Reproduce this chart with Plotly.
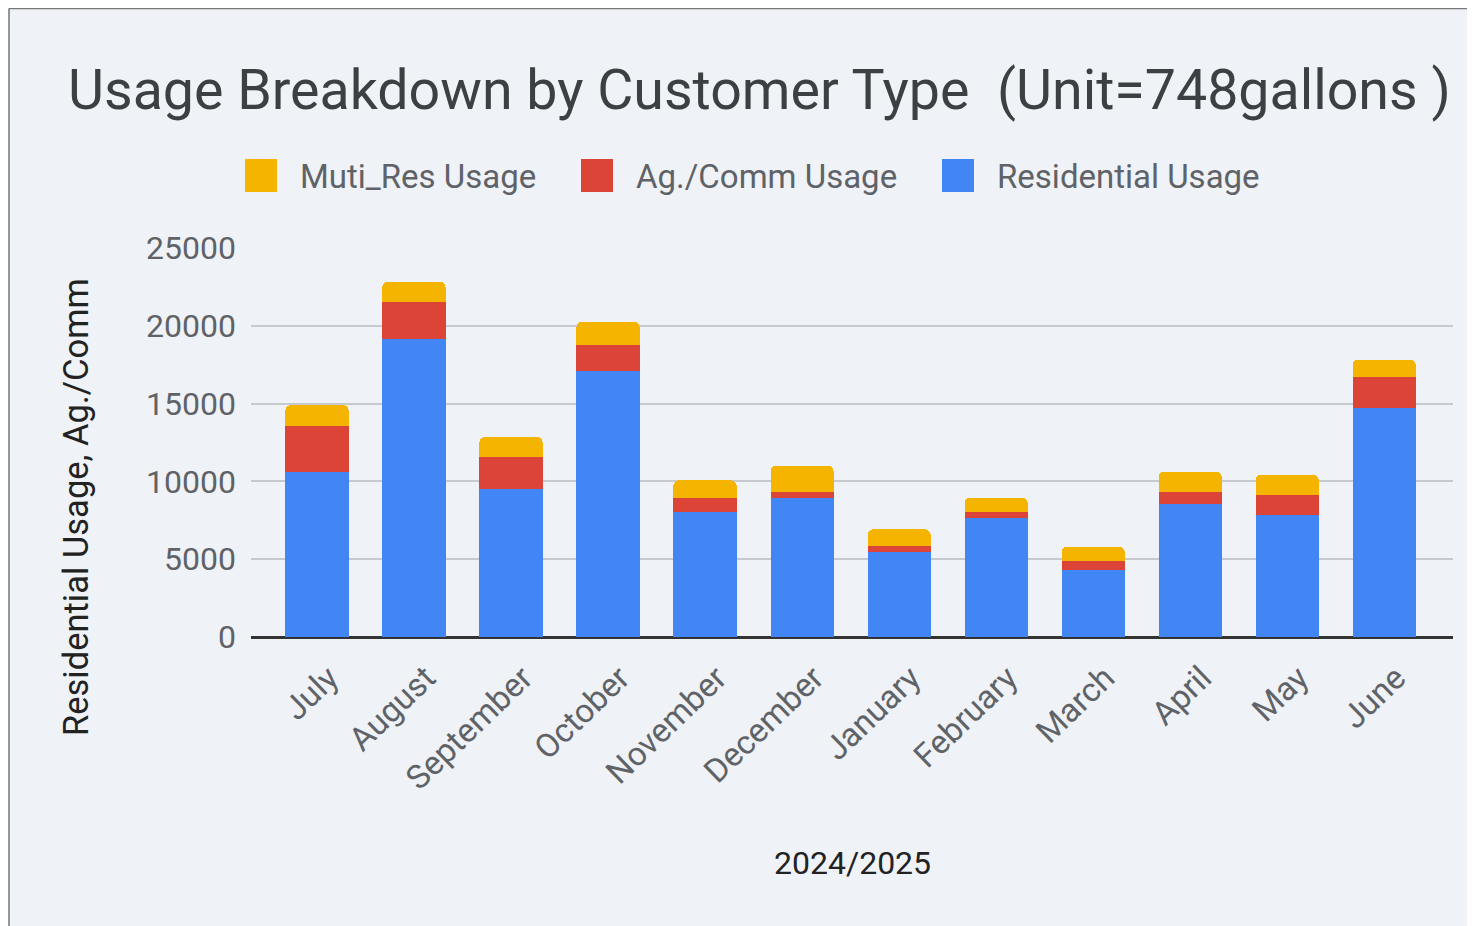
import plotly.graph_objects as go

months = ["July", "August", "September", "October", "November", "December",
          "January", "February", "March", "April", "May", "June"]
residential = [10620, 19140, 9500, 17080, 8030, 8950, 5440, 7660, 4320, 8580, 7860, 14700]
ag_comm = [2950, 2410, 2040, 1670, 920, 380, 380, 370, 560, 730, 1280, 2040]
muti_res = [1330, 1290, 1300, 1500, 1110, 1670, 1090, 920, 920, 1310, 1280, 1090]

series_names = ["Residential Usage", "Ag./Comm Usage", "Muti_Res Usage"]
series_colors = ["#4285F4", "#DB4437", "#F4B400"]
y_ticks = [0, 5000, 10000, 15000, 20000, 25000]
y_tick_text = ["0", "5000", "10000", "15000", "20000", "25000"]

title_text = "Usage Breakdown by Customer Type  (Unit=748gallons )"
x_title = "2024/2025"
y_title = "Residential Usage, Ag./Comm"

OFF = 8  # page offset of the figure (body margin)
W, H = 1475 - OFF, 926 - OFF
L, R, T, B = 251 - OFF, 22, 248 - OFF, 289
PW, PH = W - L - R, H - T - B

def px_x(p):
    # p: page pixel x
    return (p - OFF - L) / PW

def px_y(p):
    return 1 - (p - OFF - T) / PH

BG = "#EFF2F7"
FONT = "Roboto"

fig = go.Figure()
for vals, name, col in zip([residential, ag_comm, muti_res], series_names, series_colors):
    fig.add_trace(go.Bar(x=months, y=vals, name=name, marker_color=col,
                         marker_line_width=0, width=0.65, showlegend=False))

shapes = []
annotations = []

# border
shapes.append(dict(type="line", xref="paper", yref="paper", x0=px_x(9), x1=px_x(9),
                   y0=px_y(8.5), y1=px_y(H + 20), line=dict(color="#777777", width=1.5)))
shapes.append(dict(type="line", xref="paper", yref="paper", x0=px_x(9), x1=px_x(1500),
                   y0=px_y(8.5), y1=px_y(8.5), line=dict(color="#777777", width=1.5)))

# legend (manual, to match large swatches)
legend_items = [(series_names[2], series_colors[2], 245),
                (series_names[1], series_colors[1], 581),
                (series_names[0], series_colors[0], 942)]
for name, col, x0 in legend_items:
    shapes.append(dict(type="rect", xref="paper", yref="paper",
                       x0=px_x(x0), x1=px_x(x0 + 32), y0=px_y(192), y1=px_y(159),
                       fillcolor=col, line_width=0))
    annotations.append(dict(text=name, xref="paper", yref="paper", x=px_x(x0 + 53), y=px_y(176),
                            xanchor="left", yanchor="middle", showarrow=False,
                            font=dict(family=FONT, size=33, color="#5F6368")))

annotations.append(dict(text=title_text, xref="paper", yref="paper", x=px_x(66), y=px_y(90),
                        xanchor="left", yanchor="middle", showarrow=False,
                        font=dict(family=FONT, size=55.5, color="#3C4043")))
annotations.append(dict(text=x_title, xref="paper", yref="paper", x=0.5, y=px_y(863),
                        xanchor="center", yanchor="middle", showarrow=False,
                        font=dict(family=FONT, size=32, color="#222222")))
annotations.append(dict(text=y_title, xref="paper", yref="paper", x=px_x(76), y=px_y(507),
                        xanchor="center", yanchor="middle", showarrow=False, textangle=-90,
                        font=dict(family=FONT, size=34.5, color="#222222")))

fig.update_layout(
    width=W, height=H,
    margin=dict(l=L, r=R, t=T, b=B, autoexpand=False),
    paper_bgcolor=BG, plot_bgcolor=BG,
    barmode="stack", barcornerradius=5,
    shapes=shapes, annotations=annotations,
    showlegend=False,
    font=dict(family=FONT),
)
fig.update_xaxes(range=[-0.68, 11.71], tickangle=-44, showgrid=False,
                 tickfont=dict(family=FONT, size=33, color="#5F6368"),
                 ticklabelshift=12, ticklabelstandoff=14,
                 showline=False, ticks="", automargin=False)
fig.update_yaxes(range=[0, 25000], tickvals=y_ticks, ticktext=y_tick_text,
                 showgrid=True, gridcolor="#C6C9CE",
                 gridwidth=2, zeroline=True, zerolinecolor="#333333", zerolinewidth=3,
                 tickfont=dict(family=FONT, size=32, color="#5F6368"),
                 ticks="", ticklabelstandoff=14, automargin=False, showline=False)

fig.write_html("out.html")
